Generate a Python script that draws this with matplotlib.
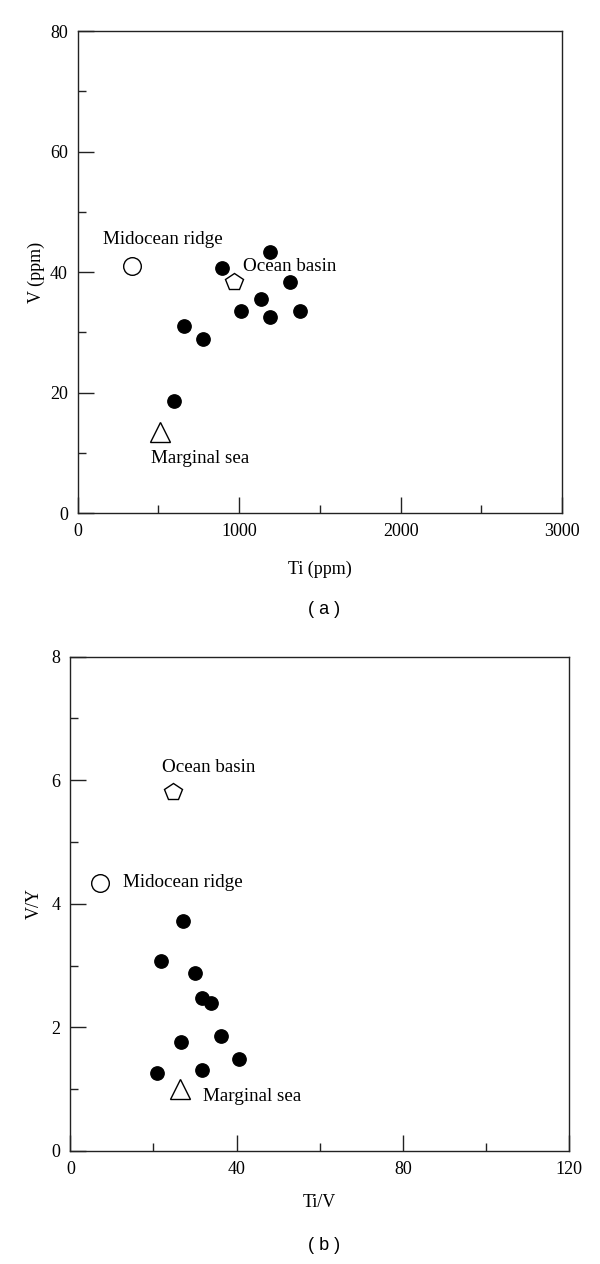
import numpy as np
import matplotlib.pyplot as plt
from matplotlib.ticker import MultipleLocator

plt.rcParams['font.family'] = ['Liberation Serif', 'DejaVu Serif']

# panel (a): Ti vs V, samples
ti_ppm = [1194, 894, 1314, 1134, 1014, 1194, 1376, 657, 777, 597]
v_ppm = [43.4, 40.6, 38.4, 35.6, 33.6, 32.6, 33.6, 31.1, 28.9, 18.6]

# panel (b): Ti/V vs V/Y, samples
ti_v = [27.2, 21.8, 29.9, 31.7, 33.8, 36.2, 26.6, 40.6, 31.7, 20.9]
v_y = [3.72, 3.08, 2.88, 2.47, 2.39, 1.86, 1.77, 1.49, 1.31, 1.26]

# reference settings: name, marker, (a) Ti, (a) V, (b) Ti/V, (b) V/Y
ref_names = ['Midocean ridge', 'Ocean basin', 'Marginal sea']
ref_markers = ['o', 'p', '^']
ref_a_x = [337, 967, 508]
ref_a_y = [41.0, 38.3, 13.4]
ref_b_x = [7.2, 24.6, 26.4]
ref_b_y = [4.34, 5.81, 1.0]
ref_sizes = [12.7, 13.0, 14.5]

# label anchors (left edge, vertical center)
lab_a_x = [157, 1025, 452]
lab_a_y = [45.4, 41.0, 9.1]
lab_b_x = [12.6, 22.0, 31.8]
lab_b_y = [4.34, 6.21, 0.89]

fig = plt.figure(figsize=(6, 12.64), dpi=100)
ax1 = fig.add_axes([0.1295, 0.5941, 0.8072, 0.3813])
ax2 = fig.add_axes([0.1172, 0.0894, 0.8315, 0.3911])


def style(ax, xmaj, xmin, ymaj, ymin):
    for s in ax.spines.values():
        s.set_linewidth(1.0)
        s.set_color('#222222')
    ax.xaxis.set_major_locator(MultipleLocator(xmaj))
    ax.xaxis.set_minor_locator(MultipleLocator(xmin))
    ax.yaxis.set_major_locator(MultipleLocator(ymaj))
    ax.yaxis.set_minor_locator(MultipleLocator(ymin))
    ax.tick_params(which='both', direction='in', top=False, right=False,
                   width=1.0, color='#222222', labelsize=13)
    ax.tick_params(which='major', length=11.5, pad=7)
    ax.tick_params(which='minor', length=5.8)


def draw_refs(ax, xs, ys, lx, ly, fs):
    for name, m, x, y, s, tx, ty in zip(ref_names, ref_markers, xs, ys,
                                        ref_sizes, lx, ly):
        ax.plot(x, y, marker=m, ms=s, mfc='white', mec='black', mew=1.0,
                linestyle='none')
        ax.text(tx, ty, name, fontsize=fs, ha='left', va='center')


# (a)
ax1.plot(ti_ppm, v_ppm, 'o', color='black', ms=9.6, linestyle='none')
draw_refs(ax1, ref_a_x, ref_a_y, lab_a_x, lab_a_y, 13.7)
ax1.set_xlim(0, 3000)
ax1.set_ylim(0, 80)
style(ax1, 1000, 500, 20, 10)
ax1.set_xlabel('Ti (ppm)', fontsize=13, labelpad=15)
ax1.set_ylabel('V (ppm)', fontsize=13, labelpad=4)
fig.text(0.54, 1 - 610 / 1264, '( a )', fontsize=13, ha='center',
         va='center', family=['Liberation Sans', 'DejaVu Sans'])

# (b)
ax2.plot(ti_v, v_y, 'o', color='black', ms=9.6, linestyle='none')
draw_refs(ax2, ref_b_x, ref_b_y, lab_b_x, lab_b_y, 13.7)
ax2.set_xlim(0, 120)
ax2.set_ylim(0, 8)
style(ax2, 40, 20, 2, 1)
ax2.set_xlabel('Ti/V', fontsize=13, labelpad=12)
ax2.set_ylabel('V/Y', fontsize=13, labelpad=6)
fig.text(0.54, 1 - 1245 / 1264, '( b )', fontsize=13, ha='center',
         va='center', family=['Liberation Sans', 'DejaVu Sans'])

fig.savefig('out.png', dpi=100)
